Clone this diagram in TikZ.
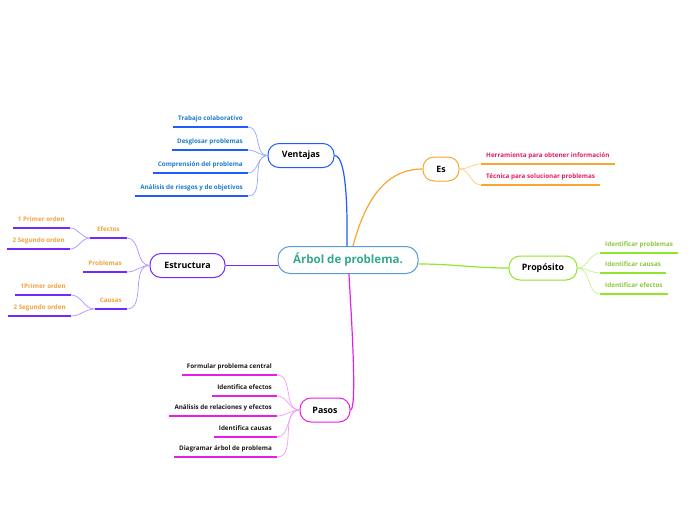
\documentclass[tikz,border=0pt]{standalone}
\usepackage{fontspec}
\setmainfont{Open Sans}
\usepackage{xcolor}
\definecolor{cCentroBorde}{HTML}{5B9BD5}
\definecolor{cCentroTxt}{HTML}{35A88C}
\definecolor{cVent}{HTML}{1F5BFF}
\definecolor{cVentTxt}{HTML}{1C7BCC}
\definecolor{cVentRama}{HTML}{8FA9FF}
\definecolor{cEs}{HTML}{F8A531}
\definecolor{cEsTxt}{HTML}{E31B5F}
\definecolor{cEsRama}{HTML}{FBCB85}
\definecolor{cEst}{HTML}{7228FF}
\definecolor{cEstTxt}{HTML}{F2A23C}
\definecolor{cEstRama}{HTML}{B590FF}
\definecolor{cProp}{HTML}{8FE62C}
\definecolor{cPropTxt}{HTML}{8CC63E}
\definecolor{cPropRama}{HTML}{C2F28C}
\definecolor{cPas}{HTML}{E61EE6}
\definecolor{cPasTxt}{HTML}{1A1A1A}
\definecolor{cPasRama}{HTML}{F39CF3}
\usepackage{tikz}
\newcommand\fhoja{\bfseries\fontsize{6.3}{8}\selectfont}

\begin{document}
\begin{tikzpicture}[
    x=1pt, y=-1pt,
    tema/.style  = {draw, rounded corners=11pt, line width=1pt, fill=white,
                    minimum height=24pt, inner sep=3pt,
                    font=\bfseries\fontsize{8.8}{11}\selectfont, text=black},
    hoja/.style  = {font=\fhoja, inner xsep=5pt, inner ysep=4.5pt,
                    text height=4.8pt, text depth=1.4pt,
                    append after command={(\tikzlastnode.south west)
                      edge[draw=#1, line width=1.1pt] (\tikzlastnode.south east)}},
    rama/.style  = {draw=#1, line width=0.7pt},
    eje/.style   = {draw=#1, line width=1.2pt}
]
\useasboundingbox (0,0) rectangle (696,520);

% --- Tema central ---------------------------------------------------------
\node[tema, draw=cCentroBorde, minimum width=140pt, minimum height=27pt,
      rounded corners=12pt, text=cCentroTxt,
      font=\bfseries\fontsize{11.5}{13}\selectfont] (centro) at (348,260)
      {Árbol de problema.};

% --- Temas principales ----------------------------------------------------
\node[tema, draw=cVent, minimum width=66pt]  (ventajas)   at (301,155.5) {Ventajas};
\node[tema, draw=cEs,   minimum width=36pt]  (es)         at (441,169)   {Es};
\node[tema, draw=cEst,  minimum width=75pt]  (estructura) at (187.5,265.5) {Estructura};
\node[tema, draw=cProp, minimum width=68pt]  (proposito)  at (543,268)   {Propósito};
\node[tema, draw=cPas,  minimum width=50pt]  (pasos)      at (325,410)   {Pasos};

% --- Ejes: centro -> temas ------------------------------------------------
\draw[eje=cVent] ([xshift=-1pt]centro.north) to[out=90, in=0, looseness=0.4] (ventajas.east);
\draw[eje=cEs]   ([xshift=5pt]centro.north)  to[out=75, in=180] (es.west);
\draw[eje=cEst]  (estructura.east) -- (estructura.east -| centro.west);
\draw[eje=cProp] ([yshift=-4pt]centro.east) to[out=0, in=180] (proposito.west);
\draw[eje=cPas]  ([xshift=1pt]centro.south)  to[out=-90, in=0, looseness=0.15] (pasos.east);

% --- Ventajas (izquierda arriba) ------------------------------------------
\node[hoja=cVent, text=cVentTxt, anchor=south east] (v1) at (248,127) {Trabajo colaborativo};
\node[hoja=cVent, text=cVentTxt, anchor=south east] (v2) at (248,150) {Desglosar problemas};
\node[hoja=cVent, text=cVentTxt, anchor=south east] (v3) at (248,173) {Comprensión del problema};
\node[hoja=cVent, text=cVentTxt, anchor=south east] (v4) at (248,196) {Análisis de riesgos y de objetivos};
\draw[rama=cVentRama] (ventajas.west) to[out=180, in=0] (v1.south east);
\draw[rama=cVentRama] (ventajas.west) to[out=180, in=0] (v2.south east);
\draw[rama=cVentRama] (ventajas.west) to[out=180, in=0] (v3.south east);
\draw[rama=cVentRama] (ventajas.west) to[out=180, in=0] (v4.south east);

% --- Es (derecha arriba) --------------------------------------------------
\node[hoja=cEs, text=cEsTxt, anchor=south west] (e1) at (481,164) {Herramienta para obtener información};
\node[hoja=cEs, text=cEsTxt, anchor=south west] (e2) at (481,185) {Técnica para solucionar problemas};
\draw[rama=cEsRama] (es.east) to[out=0, in=180] (e1.south west);
\draw[rama=cEsRama] (es.east) to[out=0, in=180] (e2.south west);

% --- Proposito (derecha) --------------------------------------------------
\node[hoja=cProp, text=cPropTxt, anchor=south west] (p1) at (600,253) {Identificar problemas};
\node[hoja=cProp, text=cPropTxt, anchor=south west] (p2) at (600,273) {Identificar causas};
\node[hoja=cProp, text=cPropTxt, anchor=south west] (p3) at (600,294) {Identificar efectos};
\draw[rama=cPropRama] (proposito.east) to[out=0, in=180] (p1.south west);
\draw[rama=cPropRama] (proposito.east) to[out=0, in=180] (p2.south west);
\draw[rama=cPropRama] (proposito.east) to[out=0, in=180] (p3.south west);

% --- Estructura (izquierda): efectos / problemas / causas ------------------
\node[hoja=cEst, text=cEstTxt, anchor=south east, inner xsep=7pt] (efectos)   at (127,238) {Efectos};
\node[hoja=cEst, text=cEstTxt, anchor=south east, inner xsep=5pt] (problemas) at (127,272) {Problemas};
\node[hoja=cEst, text=cEstTxt, anchor=south east, inner xsep=5pt] (causas)    at (127,309) {Causas};
\draw[rama=cEstRama] (estructura.west) to[out=180, in=0] (efectos.south east);
\draw[rama=cEstRama] (estructura.west) to[out=180, in=0] (problemas.south east);
\draw[rama=cEstRama] (estructura.west) to[out=180, in=0] (causas.south east);

% segundo nivel (efectos y causas)
\node[hoja=cEst, text=cEstTxt, anchor=south east] (ef1) at (70,228) {1 Primer orden};
\node[hoja=cEst, text=cEstTxt, anchor=south east] (ef2) at (70,249) {2 Segundo orden};
\node[hoja=cEst, text=cEstTxt, anchor=south east] (ca1) at (71,295) {1Primer orden};
\node[hoja=cEst, text=cEstTxt, anchor=south east] (ca2) at (71,316) {2 Segundo orden};
\draw[rama=cEstRama] (efectos.south west) to[out=180, in=0] (ef1.south east);
\draw[rama=cEstRama] (efectos.south west) to[out=180, in=0] (ef2.south east);
\draw[rama=cEstRama] (causas.south west)  to[out=180, in=0] (ca1.south east);
\draw[rama=cEstRama] (causas.south west)  to[out=180, in=0] (ca2.south east);

% --- Pasos (abajo) --------------------------------------------------------
\node[hoja=cPas, text=cPasTxt, anchor=south east] (s1) at (277,375) {Formular problema central};
\node[hoja=cPas, text=cPasTxt, anchor=south east] (s2) at (277,396) {Identifica efectos};
\node[hoja=cPas, text=cPasTxt, anchor=south east] (s3) at (277,416) {Análisis de relaciones y efectos};
\node[hoja=cPas, text=cPasTxt, anchor=south east] (s4) at (277,437) {Identifica causas};
\node[hoja=cPas, text=cPasTxt, anchor=south east] (s5) at (277,457) {Diagramar árbol de problema};
\draw[rama=cPasRama] (pasos.west) to[out=180, in=0] (s1.south east);
\draw[rama=cPasRama] (pasos.west) to[out=180, in=0] (s2.south east);
\draw[rama=cPasRama] (pasos.west) to[out=180, in=0] (s3.south east);
\draw[rama=cPasRama] (pasos.west) to[out=180, in=0] (s4.south east);
\draw[rama=cPasRama] (pasos.west) to[out=180, in=0] (s5.south east);
\end{tikzpicture}
\end{document}
